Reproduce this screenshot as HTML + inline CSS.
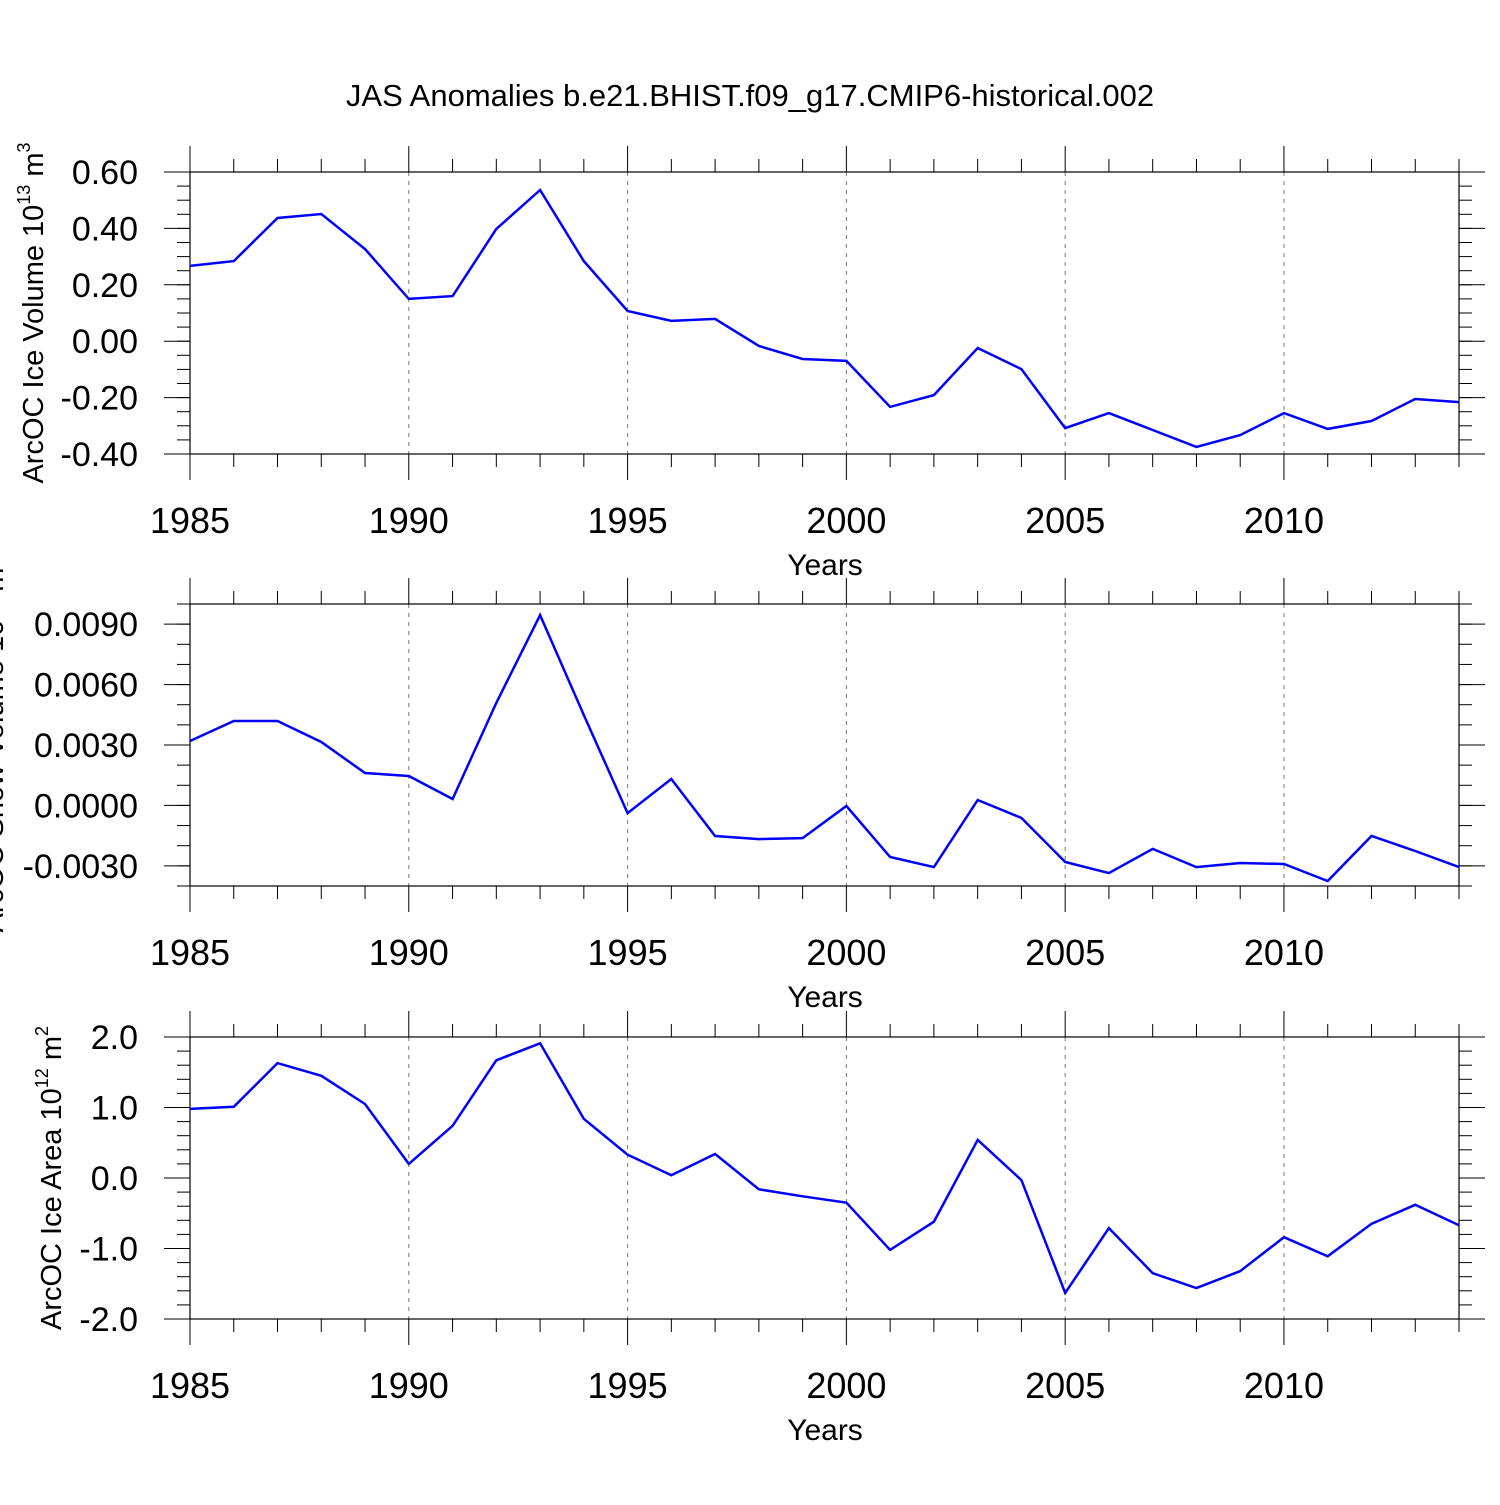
<!DOCTYPE html>
<html><head><meta charset="utf-8"><style>
html,body{margin:0;padding:0;background:#fff;}
svg text{font-family:"Liberation Sans",sans-serif;fill:#000;}
</style></head><body>
<svg id="chart" width="1500" height="1500" xmlns="http://www.w3.org/2000/svg">
<text x="750" y="106" font-size="31" text-anchor="middle">JAS Anomalies b.e21.BHIST.f09_g17.CMIP6-historical.002</text>
</svg>
<script>
const years = [1985,1986,1987,1988,1989,1990,1991,1992,1993,1994,1995,1996,1997,1998,1999,2000,2001,2002,2003,2004,2005,2006,2007,2008,2009,2010,2011,2012,2013,2014];
const xTickLabels = [1985,1990,1995,2000,2005,2010];
const iceVolume = [0.267,0.284,0.437,0.451,0.327,0.150,0.160,0.398,0.536,0.284,0.107,0.072,0.079,-0.017,-0.063,-0.070,-0.233,-0.191,-0.024,-0.099,-0.308,-0.255,-0.315,-0.375,-0.333,-0.255,-0.311,-0.283,-0.205,-0.216];
const snowVolume = [0.00320,0.00419,0.00419,0.00315,0.00161,0.00146,0.00032,0.00509,0.00945,0.00449,-0.00038,0.00131,-0.00152,-0.00167,-0.00162,-0.00003,-0.00256,-0.00306,0.00027,-0.00062,-0.00281,-0.00336,-0.00216,-0.00306,-0.00286,-0.00291,-0.00375,-0.00152,-0.00226,-0.00306];
const iceArea = [0.98,1.01,1.63,1.45,1.05,0.20,0.74,1.67,1.91,0.84,0.33,0.04,0.34,-0.16,-0.26,-0.35,-1.02,-0.62,0.54,-0.03,-1.63,-0.71,-1.35,-1.56,-1.32,-0.84,-1.11,-0.65,-0.38,-0.67];
const volTicks = [0.6,0.4,0.2,0.0,-0.2,-0.4];
const volTickLabels = ["0.60","0.40","0.20","0.00","-0.20","-0.40"];
const snowTicks = [0.009,0.006,0.003,0,-0.003];
const snowTickLabels = ["0.0090","0.0060","0.0030","0.0000","-0.0030"];
const areaTicks = [2,1,0,-1,-2];
const areaTickLabels = ["2.0","1.0","0.0","-1.0","-2.0"];

const svg = document.getElementById('chart');
const NS = 'http://www.w3.org/2000/svg';
const X0 = 190, X1 = 1459;
function xs(yr){ return X0 + (yr - 1985) / (2014 - 1985) * (X1 - X0); }
function mk(tag, attrs, parent){
  const e = document.createElementNS(NS, tag);
  for (const k in attrs) e.setAttribute(k, attrs[k]);
  (parent || svg).appendChild(e);
  return e;
}

function panel(key, top, bottom, ymin, ymax, minorStep, ticks, tickLabels, data, titleHTML, titleX){
  const g = mk('g', {});
  
  
  const ys = v => bottom - (v - ymin) / (ymax - ymin) * (bottom - top);
  xTickLabels.slice(1).forEach(yr => {
    const l = mk('line', {x1: xs(yr), x2: xs(yr), y1: top, y2: bottom, stroke: '#777', 'stroke-width': 1, 'stroke-dasharray': '4,5'}, g);
    
    
  });
  years.forEach(yr => {
    const major = yr % 5 === 0;
    const len = major ? 26 : 13;
    mk('line', {x1: xs(yr), x2: xs(yr), y1: top - len, y2: top, stroke: '#000', 'stroke-width': 1}, g);
    mk('line', {x1: xs(yr), x2: xs(yr), y1: bottom, y2: bottom + len, stroke: '#000', 'stroke-width': 1}, g);
  });
  const nMinor = Math.round((ymax - ymin) / minorStep);
  for (let i = 0; i <= nMinor; i++){
    const v = ymin + i * minorStep, y = ys(v);
    mk('line', {x1: X0 - 13, x2: X0, y1: y, y2: y, stroke: '#000', 'stroke-width': 1}, g);
    mk('line', {x1: X1, x2: X1 + 13, y1: y, y2: y, stroke: '#000', 'stroke-width': 1}, g);
  }
  ticks.forEach((v, i) => {
    const y = ys(v);
    mk('line', {x1: X0 - 26, x2: X0, y1: y, y2: y, stroke: '#000', 'stroke-width': 1}, g);
    mk('line', {x1: X1, x2: X1 + 26, y1: y, y2: y, stroke: '#000', 'stroke-width': 1}, g);
    const t = mk('text', {x: 138, y: y + 12, 'font-size': 34, 'text-anchor': 'end'}, g);
    
    
    t.textContent = tickLabels[i];
  });
  const fr = mk('rect', {x: X0, y: top, width: X1 - X0, height: bottom - top, fill: 'none', stroke: '#000', 'stroke-width': 1.2}, g);
  
  
  xTickLabels.forEach(yr => {
    const t = mk('text', {x: xs(yr), y: bottom + 79, 'font-size': 36, 'text-anchor': 'middle'}, g);
    
    
    t.textContent = yr;
  });
  const xt = mk('text', {x: 825, y: bottom + 121, 'font-size': 30, 'text-anchor': 'middle'}, g);
  
  
  xt.textContent = 'Years';
  const cy = (top + bottom) / 2;
  const yt = mk('text', {x: 0, y: 0, 'font-size': 29, 'text-anchor': 'middle', transform: 'translate(' + titleX + ',' + cy + ') rotate(-90)'}, g);
  
  
  yt.innerHTML = titleHTML;
  const pts = data.map((v, i) => xs(years[i]).toFixed(1) + ',' + ys(v).toFixed(1)).join(' ');
  const pl = mk('polyline', {points: pts, fill: 'none', stroke: '#0000ff', 'stroke-width': 2.5, 'stroke-linejoin': 'miter'}, g);
  
  
}

panel('ice-volume', 172, 454, -0.4, 0.6, 0.05, volTicks, volTickLabels, iceVolume,
  'ArcOC Ice Volume 10<tspan dy="-13" font-size="18">13</tspan><tspan dy="13"> m</tspan><tspan dy="-13" font-size="18">3</tspan>', 43);
panel('snow-volume', 604, 886, -0.004, 0.010, 0.001, snowTicks, snowTickLabels, snowVolume,
  'ArcOC Snow Volume 10<tspan dy="-13" font-size="18">13</tspan><tspan dy="13"> m</tspan><tspan dy="-13" font-size="18">3</tspan>', 3);
panel('ice-area', 1037, 1319, -2, 2, 0.2, areaTicks, areaTickLabels, iceArea,
  'ArcOC Ice Area 10<tspan dy="-13" font-size="18">12</tspan><tspan dy="13"> m</tspan><tspan dy="-13" font-size="18">2</tspan>', 61);
</script>
</body></html>
